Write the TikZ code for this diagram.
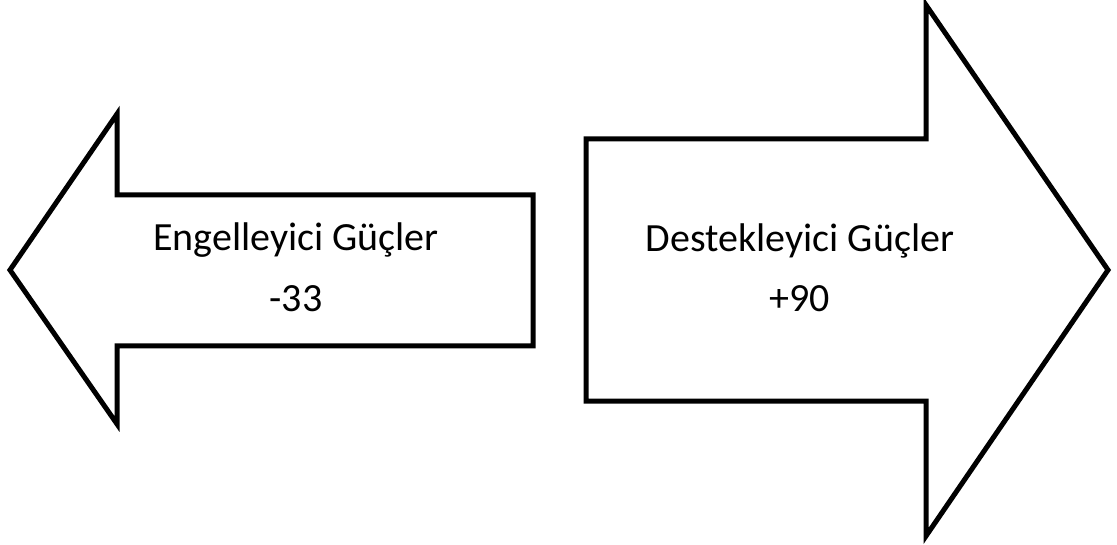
\documentclass[tikz,border=0pt]{standalone}
\usepackage{fontspec}
\setmainfont{Carlito}
\begin{document}
\begin{tikzpicture}[x=1pt,y=-1pt,
  arrowshape/.style={draw=black,line width=5pt,line join=miter,fill=white},
  label/.style={anchor=base,inner sep=0pt,font=\fontsize{40}{44}\selectfont}]
\useasboundingbox (0,0) rectangle (1117,545);
% left arrow (hindering forces)
\draw[arrowshape] (10,270) -- (117,114) -- (117,195) -- (533,195)
  -- (533,346) -- (117,346) -- (117,424) -- cycle;
% right arrow (supporting forces)
\draw[arrowshape] (586,139) -- (926,139) -- (926,5) -- (1108,270)
  -- (926,536) -- (926,401) -- (586,401) -- cycle;
\node[label] (engT) at (296,251) {Engelleyici Güçler};
\node[label] (engV) at (296,312) {-33};
\node[label] (desT) at (800,252) {Destekleyici Güçler};
\node[label] (desV) at (800,312) {+90};
\end{tikzpicture}
\end{document}
